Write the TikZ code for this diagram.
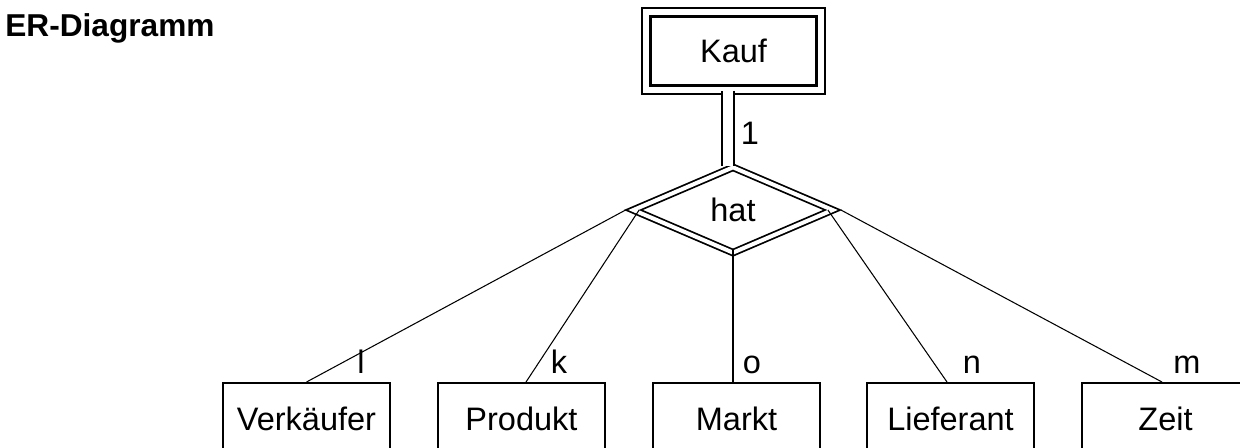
\documentclass[tikz,border=0pt]{standalone}
\usepackage{fontspec}
\setmainfont{Liberation Sans}
\usetikzlibrary{shapes.geometric,positioning}

\begin{document}
\begin{tikzpicture}[font=\fontsize{18.5}{22}\selectfont,
    entity/.style={draw,line width=1.1pt,minimum width=3.34cm,minimum height=1.44cm},
    weakentity/.style={draw,double,line width=1.2pt,double distance=0.128cm,minimum width=3.49cm,minimum height=1.55cm},
    relation/.style={diamond,draw,double,line width=1pt,double distance=0.08cm,minimum width=4cm,minimum height=1.72cm,inner sep=1pt,aspect=2.3},
    conn/.style={line width=0.6pt},
    card/.style={anchor=base,inner sep=0pt}]
    \useasboundingbox (0,0) rectangle (24.8,8.96);

    \node[anchor=base west,inner sep=0pt,font=\fontsize{18}{21}\selectfont\bfseries] (title) at (0.1,8.22) {ER-Diagramm};

    \node[weakentity] (kauf) at (14.67,7.94) {Kauf};
    \node[relation] (hat) at (14.66,4.76) {hat};

    \node[entity] (verkaeufer) at (6.13,0.58) {Verkäufer};
    \node[entity] (produkt) at (10.43,0.58) {Produkt};
    \node[entity] (markt) at (14.73,0.58) {Markt};
    \node[entity] (lieferant) at (19.01,0.58) {Lieferant};
    \node[entity] (zeit) at (23.31,0.58) {Zeit};

    % Kauf -- hat
    \draw[double,line width=1.1pt,double distance=0.2cm] ([xshift=-0.11cm]kauf.south) -- ([xshift=-0.11cm]kauf.south |- hat.north);
    \node[card] (card1) at (15.0,6.06) {1};

    % hat -- entities
    \draw[conn] ([xshift=-0.13cm]hat.west) -- (verkaeufer.north);
    \draw[conn] ([xshift=0.14cm]hat.west) -- ([xshift=0.09cm]produkt.north);
    \draw[conn] ([yshift=0.1cm]hat.south) -- (hat.south |- markt.north);
    \draw[conn] ([xshift=-0.12cm]hat.east) -- ([xshift=-0.07cm]lieferant.north);
    \draw[conn] ([xshift=0.14cm]hat.east) -- ([xshift=-0.07cm]zeit.north);

    \node[card] (cardl) at (7.22,1.48) {l};
    \node[card] (cardk) at (11.18,1.48) {k};
    \node[card] (cardo) at (15.04,1.48) {o};
    \node[card] (cardn) at (19.44,1.48) {n};
    \node[card] (cardm) at (23.74,1.48) {m};
\end{tikzpicture}
\end{document}
